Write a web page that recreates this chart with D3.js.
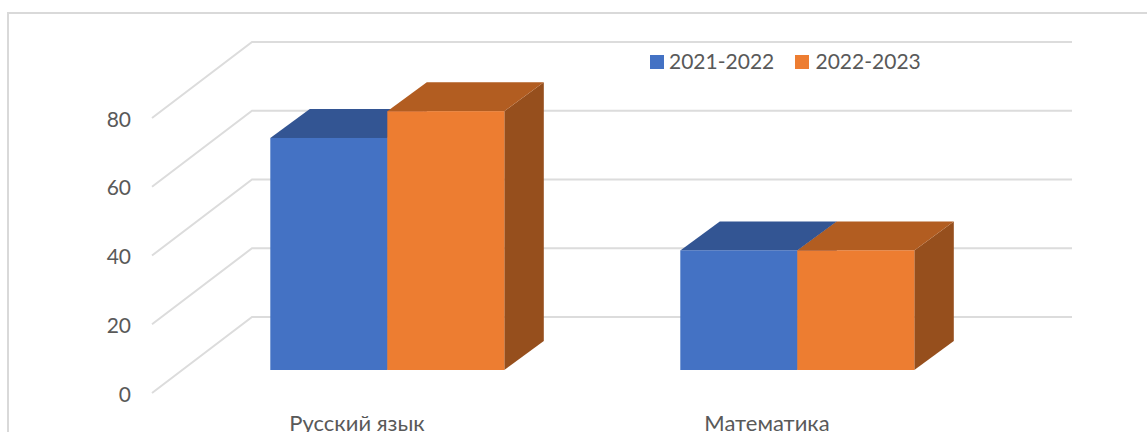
<!DOCTYPE html>
<html><head><meta charset="utf-8">
<script src="https://cdn.jsdelivr.net/npm/d3@7"></script>
<style>html,body{margin:0;padding:0;background:#fff;overflow:hidden}svg{display:block}text{font-family:Lato,sans-serif;fill:#595959}</style>
</head><body><svg id="c" width="1147" height="432"></svg>
<script>
const categories = ["Русский язык", "Математика"];
const seriesNames = ["2021-2022", "2022-2023"];
const values2021 = [67.5, 34.8];
const values2022 = [75.3, 34.8];
const tickValues = [0, 20, 40, 60, 80];
const colors = [
  {front:"#4472C4", top:"#335593", side:"#2F5597"},
  {front:"#ED7D31", top:"#B25D21", side:"#964F1D"}
];

const svg = d3.select("#c");
const W = 1147, H = 432;
const depth = {dx:100, dy:-76};
const barDepth = {dx:39.5, dy:-29};
const x0 = d3.scaleBand().domain(categories).range([152, 972]);
const yFront = d3.scaleLinear().domain([0,80]).range([393,118]);
const yBar = d3.scaleLinear().domain([0,80]).range([370,95]);
const barW = 117;
const barShift = 30.3;

// frame
svg.append("path").attr("d", d3.line()([[W,13],[8,13],[8,H]]))
  .attr("fill","none").attr("stroke","#d9d9d9").attr("stroke-width",2);

// gridlines
const grid = svg.append("g");
tickValues.forEach(v=>{
  const y = yFront(v);
  grid.append("path").attr("d", d3.line()([[x0.range()[0],y],[x0.range()[0]+depth.dx,y+depth.dy],[x0.range()[1]+depth.dx,y+depth.dy]]))
    .attr("fill","none").attr("stroke","#dcdcdc").attr("stroke-width",2);
});

// value axis
const ax = svg.append("g").attr("transform","translate(131,1.5)")
  .call(d3.axisLeft(yFront).tickValues(tickValues).tickSize(0).tickPadding(0));
ax.select(".domain").remove();
ax.selectAll("text").attr("font-size",21).attr("dy","0.32em").style("font-family","Lato,sans-serif").attr("fill","#595959");

// category axis
const cx = svg.append("g").attr("transform","translate(0,431)")
  .call(d3.axisBottom(x0).tickSize(0).tickPadding(0));
cx.select(".domain").remove();
cx.selectAll("text").attr("font-size",22).attr("dy",0).style("font-family","Lato,sans-serif").attr("fill","#595959");

// bars
[values2021, values2022].forEach((vals,s)=>{
  const g = svg.append("g");
  vals.forEach((v,i)=>{
    const c = colors[s];
    const cxm = x0(categories[i]) + x0.bandwidth()/2 + barShift;
    const l = cxm + (s-1)*barW, r = l+barW;
    const t = yBar(v), b = yBar(0);
    const {dx,dy} = barDepth;
    g.append("polygon").attr("points",[[r,t],[r+dx,t+dy],[r+dx,b+dy],[r,b]].join(" ")).attr("fill",c.side);
    g.append("polygon").attr("points",[[l,t],[l+dx,t+dy],[r+dx,t+dy],[r,t]].join(" ")).attr("fill",c.top);
    g.append("rect").attr("x",l).attr("y",t).attr("width",barW).attr("height",b-t).attr("fill",c.front);
  });
});

// legend
const legendX = [650, 795];
const legendTextX = [669, 815.5];
seriesNames.forEach((n,i)=>{
  svg.append("rect").attr("x",legendX[i]).attr("y",55).attr("width",14).attr("height",14).attr("fill",colors[i].front);
  svg.append("text").attr("x",legendTextX[i]).attr("y",69).attr("font-size",21).text(n);
});
</script></body></html>
